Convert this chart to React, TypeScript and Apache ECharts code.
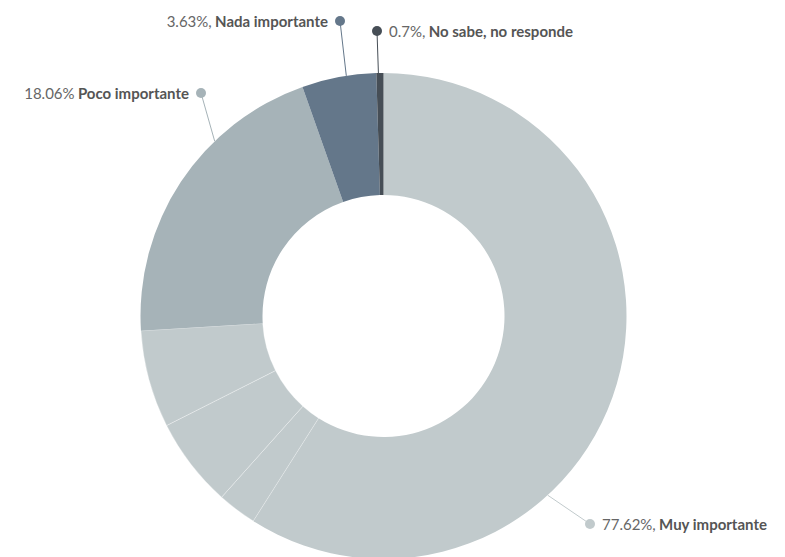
import React, { useEffect, useRef } from "react";
import * as echarts from "echarts";

// Slice values (clockwise from 12 o'clock)
const sliceNames = [
  "Muy importante",
  "Muy importante (a)",
  "Muy importante (b)",
  "Muy importante (c)",
  "Poco importante",
  "Nada importante",
  "No sabe, no responde",
];
const sliceValues = [59.0, 2.6, 5.95, 6.47, 20.56, 4.94, 0.47];
const sliceColors = ["#c1cacc", "#c1cacc", "#c1cacc", "#c1cacc", "#a6b3b8", "#64778a", "#464e56"];

// Label texts shown on the chart
const labelPercents = ["77.62%,", "", "", "", "18.06%", "3.63%,", "0.7%,"];
const labelSides = ["right", "", "", "", "left", "left", "right"];

// Layout of the pie
const CX = 383.5;
const CY = 316;
const R_IN = 121;
const R_OUT = 243;

// Label placement: dot centre, and angle (deg, clockwise from top) where the connector leaves the ring
const labelAnchors: Record<number, { x: number; y: number; angle: number }> = {
  0: { x: 590, y: 524, angle: 137.5 },
  4: { x: 201, y: 93, angle: 316 },
  5: { x: 340, y: 21, angle: 351.2 },
  6: { x: 377, y: 31, angle: 358.8 },
};

const FONT = "Lato";

export default function App() {
  const ref = useRef<HTMLDivElement>(null);

  useEffect(() => {
    if (!ref.current) return;
    const chart = echarts.init(ref.current, undefined, { renderer: "svg" });

    const data = sliceNames.map((name, i) => {
      const hasLabel = labelPercents[i] !== "";
      const side = labelSides[i];
      const fmt =
        side === "right"
          ? `{dot|}{sp|}{v|${labelPercents[i]}} {b|${name}}`
          : `{v|${labelPercents[i]}} {b|${name}}{sp|}{dot|}`;
      const isSub = i >= 1 && i <= 3;
      return {
        name,
        value: sliceValues[i],
        itemStyle: {
          color: sliceColors[i],
          borderColor: isSub ? "rgba(255,255,255,0.55)" : sliceColors[i],
          borderWidth: isSub ? 0.6 : 0,
        },
        label: hasLabel
          ? {
              show: true,
              formatter: fmt,
              rich: {
                v: { color: "#666666", fontSize: 15, fontFamily: FONT },
                b: { color: "#555555", fontSize: 15, fontWeight: "bold", fontFamily: FONT },
                sp: { width: 7, height: 10 },
                dot: { width: 10, height: 10, borderRadius: 5, backgroundColor: sliceColors[i] },
              },
            }
          : { show: false },
        labelLine: hasLabel
          ? { show: true, length: 30, length2: 0, lineStyle: { color: sliceColors[i], width: 1 } }
          : { show: false },
      };
    });

    chart.setOption({
      animation: false,
      backgroundColor: "#ffffff",
      series: [
        {
          type: "pie",
          center: [CX, CY],
          radius: [R_IN, R_OUT],
          startAngle: 90,
          clockwise: true,
          avoidLabelOverlap: false,
          silent: true,
          data,
          label: { position: "outside" },
          labelLayout: (params: any) => {
            const a = labelAnchors[params.dataIndex];
            if (!a) return {};
            const side = labelSides[params.dataIndex];
            const rad = (a.angle * Math.PI) / 180;
            const sx = CX + R_OUT * Math.sin(rad);
            const sy = CY - R_OUT * Math.cos(rad);
            const pts = [
              [sx, sy],
              [a.x, a.y],
              [a.x, a.y],
            ];
            return side === "right"
              ? { x: a.x - 5, y: a.y, align: "left", verticalAlign: "middle", labelLinePoints: pts }
              : { x: a.x + 5, y: a.y, align: "right", verticalAlign: "middle", labelLinePoints: pts };
          },
        },
      ],
    });

    return () => chart.dispose();
  }, []);

  return (
    <div
      ref={ref}
      style={{ position: "fixed", left: 0, top: 0, width: 785, height: 557 }}
    />
  );
}
